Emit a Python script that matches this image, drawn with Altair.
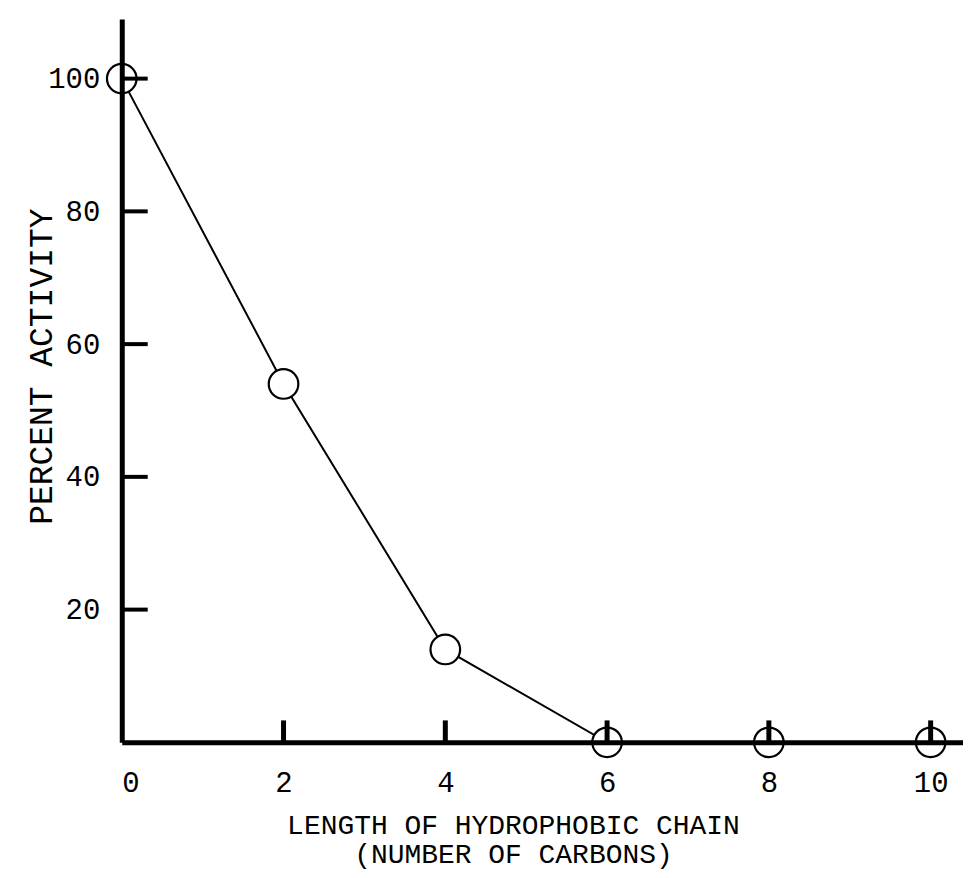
import altair as alt
import pandas as pd

# Data
carbons = [0, 2, 4, 6, 8, 10]
activity = [100, 54, 14, 0, 0, 0]
x_tick_values = [2, 4, 6, 8, 10]
y_tick_values = [20, 40, 60, 80, 100]
x_label_values = [0, 2, 4, 6, 8, 10]

FONT = "Liberation Mono"
W, H = 843, 725
NB = "\u00a0"

df = pd.DataFrame({"carbons": carbons, "activity": activity})
xt = pd.DataFrame({"t": x_tick_values})
yt = pd.DataFrame({"t": y_tick_values})

xscale = alt.Scale(domain=[0, 10.4], nice=False, zero=False)
yscale = alt.Scale(domain=[0, 109], nice=False, zero=False)

xaxis = alt.Axis(
    values=x_label_values, ticks=False, grid=False, format="d",
    domainColor="black", domainWidth=5, zindex=1,
    labelFont=FONT, labelFontSize=29, labelColor="black", labelPadding=26,
    title=["LENGTH OF HYDROPHOBIC CHAIN", NB * 4 + "(NUMBER OF CARBONS)"],
    titleFont=FONT, titleFontSize=28, titleFontWeight="normal", titleColor="black",
    titleX=392, titleY=69, titleAlign="center", titleBaseline="top", titleLineHeight=29,
)
yaxis = alt.Axis(
    values=y_tick_values, ticks=False, grid=False,
    domainColor="black", domainWidth=5, zindex=1,
    labelFont=FONT, labelFontSize=29, labelColor="black", labelPadding=22,
    title="PERCENT ACTIVITY",
    titleFont=FONT, titleFontSize=33, titleFontWeight="normal", titleColor="black",
    titleX=-80, titleY=348, titleAlign="center", titleBaseline="middle", titleAngle=270,
)

base = alt.Chart(df)

line = base.mark_line(color="black", strokeWidth=2).encode(
    x=alt.X("carbons:Q", scale=xscale, axis=xaxis),
    y=alt.Y("activity:Q", scale=yscale, axis=yaxis),
)
points = base.mark_point(
    shape="circle", size=880, filled=False, fill="white", fillOpacity=1,
    stroke="black", strokeWidth=2.2, opacity=1,
).encode(
    x=alt.X("carbons:Q", scale=xscale),
    y=alt.Y("activity:Q", scale=yscale),
)

xticks = alt.Chart(xt).mark_rule(color="black", strokeWidth=5).encode(
    x=alt.X("t:Q", scale=xscale),
    y=alt.value(H),
    y2=alt.value(H - 22),
)
yticks = alt.Chart(yt).mark_rule(color="black", strokeWidth=4).encode(
    y=alt.Y("t:Q", scale=yscale),
    x=alt.value(0),
    x2=alt.value(26),
)

chart = (
    alt.layer(line, points, xticks, yticks)
    .properties(
        width=W, height=H,
        autosize=alt.AutoSizeParams(type="none"),
        padding={"left": 114, "top": 10, "right": 0, "bottom": 127},
        background="white",
    )
    .configure_view(stroke=None)
)

chart.save("out.html", embed_options={"renderer": "svg", "actions": False})
